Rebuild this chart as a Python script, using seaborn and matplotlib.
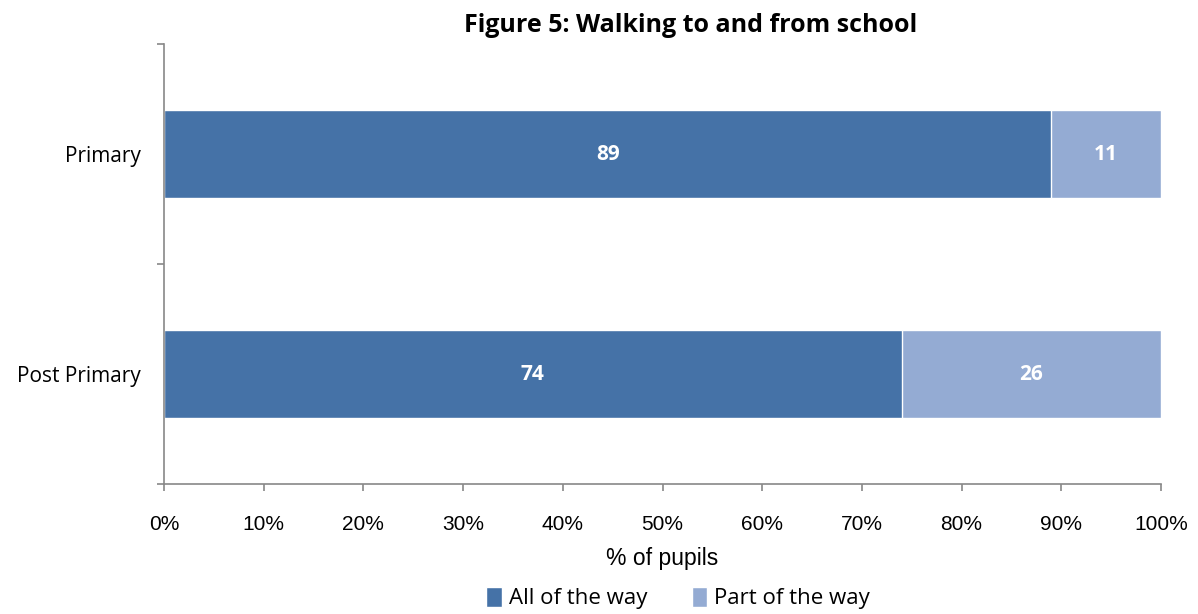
import matplotlib
matplotlib.use("Agg")
import matplotlib.pyplot as plt
import seaborn as sns
import pandas as pd
import numpy as np
from matplotlib.patches import Patch

categories = ["Primary", "Post Primary"]
all_way = [89, 74]
part_way = [11, 26]
series_names = ["All of the way", "Part of the way"]
x_ticks = [0, 10, 20, 30, 40, 50, 60, 70, 80, 90, 100]
x_tick_labels = [f"{t}%" for t in x_ticks]

dark = "#4572A7"
light = "#94ABD3"

sns.set_theme(style="white")
plt.rcParams["font.family"] = ["Open Sans", "DejaVu Sans"]
plt.rcParams["text.color"] = "black"
plt.rcParams["xtick.color"] = "black"
plt.rcParams["ytick.color"] = "black"
plt.rcParams["axes.labelcolor"] = "black"

df = pd.DataFrame({"cat": categories, "all": all_way, "part": part_way})
df["total"] = df["all"] + df["part"]

fig = plt.figure(figsize=(11.98, 6.14), dpi=100)
ax = fig.add_axes([164/1198, 1-484/614, (1161-164)/1198, (484-44)/614])

sns.barplot(data=df, y="cat", x="total", color=light, width=0.4, ax=ax,
            saturation=1, orient="h")
sns.barplot(data=df, y="cat", x="all", color=dark, width=0.4, ax=ax,
            saturation=1, orient="h")

for i, (a, p) in enumerate(zip(all_way, part_way)):
    ax.text(a/2, i, f"{a}", ha="center", va="center", color="white",
            fontsize=15, fontweight="bold")
    ax.text(a + p/2, i, f"{p}", ha="center", va="center", color="white",
            fontsize=15, fontweight="bold")

ax.set_xlim(0, 100)
ax.set_ylim(1.5, -0.5)
ax.set_xticks(x_ticks)
ax.set_xticklabels(x_tick_labels, fontsize=15, family=["Liberation Sans", "DejaVu Sans"])
ax.set_yticks([0, 1])
ax.set_yticklabels(categories, fontsize=15)
ax.set_yticks([-0.5, 0.5, 1.5], minor=True)
ax.tick_params(axis="y", which="major", length=0, pad=17)
ax.tick_params(axis="y", which="minor", length=5, width=1.2, color="#888888", left=True)
ax.tick_params(axis="x", which="major", length=5, width=1.2, color="#888888", bottom=True, pad=17)
ax.set_ylabel("")
ax.set_xlabel("% of pupils", fontsize=16.5, family=["Liberation Sans", "DejaVu Sans"], labelpad=10)

for s in ["top", "right"]:
    ax.spines[s].set_visible(False)
for s in ["left", "bottom"]:
    ax.spines[s].set_color("#888888")
    ax.spines[s].set_linewidth(1.2)

fig.text(691/1198, 1-25/614, "Figure 5: Walking to and from school", ha="center",
         va="center", fontsize=18, fontweight="bold")

handles = [Patch(facecolor=dark, label=series_names[0]),
           Patch(facecolor=light, label=series_names[1])]
fig.legend(handles=handles, loc="center", bbox_to_anchor=(678/1198, 1-598/614),
           ncol=2, frameon=False, fontsize=16, handlelength=0.7, handleheight=1.0,
           handletextpad=0.3, columnspacing=2.0)

fig.savefig("out.png", dpi=100)
